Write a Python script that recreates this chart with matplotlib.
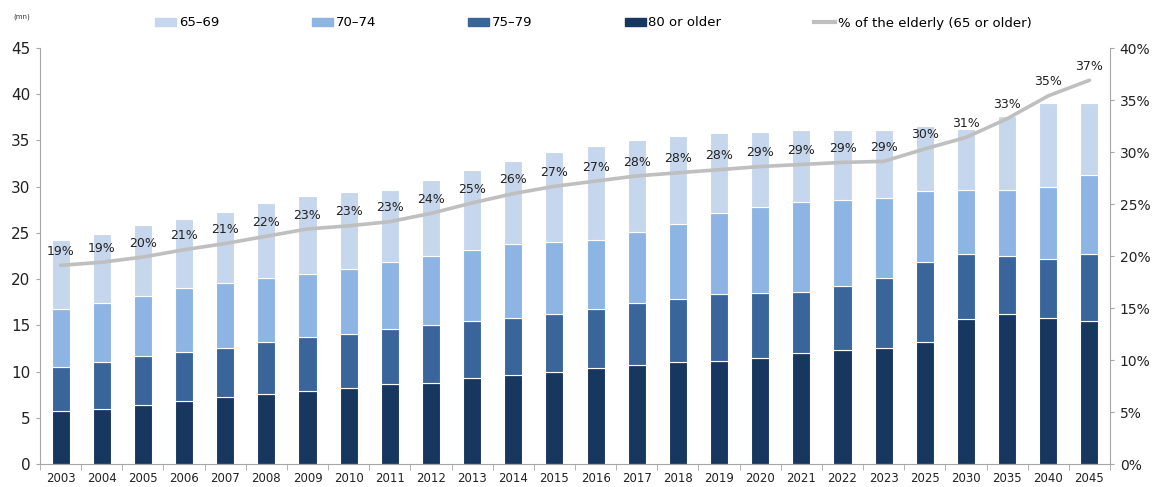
import matplotlib
matplotlib.use("Agg")
import matplotlib.pyplot as plt
from matplotlib.patches import Patch
from matplotlib.lines import Line2D
import numpy as np

years = ["2003", "2004", "2005", "2006", "2007", "2008", "2009", "2010", "2011", "2012",
         "2013", "2014", "2015", "2016", "2017", "2018", "2019", "2020", "2021", "2022",
         "2023", "2025", "2030", "2035", "2040", "2045"]

# cumulative boundaries (mn)
total = [24.2, 24.9, 25.8, 26.5, 27.3, 28.2, 29.0, 29.4, 29.6, 30.7, 31.8, 32.8, 33.7,
         34.4, 35.0, 35.5, 35.8, 35.9, 36.1, 36.1, 36.1, 36.6, 36.2, 37.6, 39.1, 39.1]
upto70_74 = [16.8, 17.4, 18.2, 19.0, 19.6, 20.1, 20.5, 21.1, 21.8, 22.5, 23.1, 23.8, 24.0,
             24.2, 25.1, 26.0, 27.1, 27.8, 28.3, 28.6, 28.8, 29.5, 29.6, 29.6, 30.0, 31.3]
upto75_79 = [10.5, 11.0, 11.7, 12.1, 12.6, 13.2, 13.7, 14.1, 14.6, 15.0, 15.5, 15.8, 16.2,
             16.8, 17.4, 17.9, 18.4, 18.5, 18.6, 19.3, 20.1, 21.8, 22.7, 22.5, 22.2, 22.7]
age80plus = [5.7, 6.0, 6.4, 6.8, 7.2, 7.6, 7.9, 8.2, 8.6, 8.8, 9.3, 9.6, 10.0,
             10.4, 10.7, 11.0, 11.1, 11.5, 12.0, 12.3, 12.6, 13.2, 15.7, 16.2, 15.8, 15.5]
elderly_pct = [19.1, 19.4, 19.9, 20.6, 21.2, 21.9, 22.6, 22.9, 23.3, 24.1, 25.1, 26.0, 26.7,
               27.2, 27.7, 28.0, 28.3, 28.6, 28.8, 29.0, 29.1, 30.3, 31.4, 33.2, 35.4, 36.9]

age75_79 = [b - a for a, b in zip(age80plus, upto75_79)]
age70_74 = [b - a for a, b in zip(upto75_79, upto70_74)]
age65_69 = [b - a for a, b in zip(upto70_74, total)]

c6569 = "#C6D6EC"
c7074 = "#8EB4E3"
c7579 = "#3A659B"
c80 = "#17375E"
cline = "#BFBFBF"
spine_c = "#A6A6A6"

plt.rcParams['font.family'] = ['DejaVu Sans']

fig = plt.figure(figsize=(11.52, 4.87), dpi=100)
ax = fig.add_axes([40/1152, 1-464/487, 1070/1152, 416/487])
x = np.arange(len(years))
w = 0.44
kw = dict(width=w, edgecolor="white", linewidth=0.8)
ax.bar(x, age80plus, color=c80, **kw)
ax.bar(x, age75_79, bottom=age80plus, color=c7579, **kw)
ax.bar(x, age70_74, bottom=upto75_79, color=c7074, **kw)
ax.bar(x, age65_69, bottom=upto70_74, color=c6569, **kw)

ax.set_xlim(-0.5, len(years) - 0.5)
ax.set_ylim(0, 45)
ax.set_yticks(range(0, 46, 5))
ax.tick_params(axis='y', labelsize=11, length=3, color=spine_c, pad=4, labelcolor="#222222")
ax.set_xticks(x)
ax.set_xticklabels(years)
ax.set_xticks(np.arange(-0.5, len(years), 1), minor=True)
ax.tick_params(axis='x', which='major', length=0, labelsize=8.5, pad=6, labelcolor="#222222")
ax.tick_params(axis='x', which='minor', length=4, color=spine_c)
for s in ["top", "right"]:
    ax.spines[s].set_visible(False)
for s in ["left", "bottom"]:
    ax.spines[s].set_color(spine_c)

ax2 = ax.twinx()
ax2.set_ylim(0, 40)
ax2.set_yticks(range(0, 41, 5))
ax2.set_yticklabels([f"{v}%" for v in range(0, 41, 5)])
ax2.tick_params(axis='y', labelsize=10, length=3, color=spine_c, pad=4, labelcolor="#222222")
for s in ["top", "left", "bottom"]:
    ax2.spines[s].set_visible(False)
ax2.spines["right"].set_color(spine_c)
ax2.plot(x, elderly_pct, color=cline, lw=2.6, solid_joinstyle='round', solid_capstyle='round')
for xi, p in zip(x, elderly_pct):
    ax2.annotate(f"{round(p)}%", (xi, p), xytext=(0, 10), textcoords="offset points",
                 ha="center", va="center", fontsize=9, color="#222222")

fig.text(22/1152, 1-17/487, "(mn)", fontsize=5, ha="center", va="center", color="#333333")

handles = [Patch(color=c6569), Patch(color=c7074), Patch(color=c7579), Patch(color=c80),
           Line2D([0], [0], color=cline, lw=3)]
labels = ["65–69", "70–74", "75–79", "80 or older", "% of the elderly (65 or older)"]
fig.legend(handles, labels, loc="center left", bbox_to_anchor=(150/1152, 1-23/487), ncol=5,
           frameon=False, fontsize=9.5, handlelength=1.6, handleheight=0.5, handletextpad=0.2,
           columnspacing=7.0, borderaxespad=0)

fig.savefig("out.png", dpi=100)
